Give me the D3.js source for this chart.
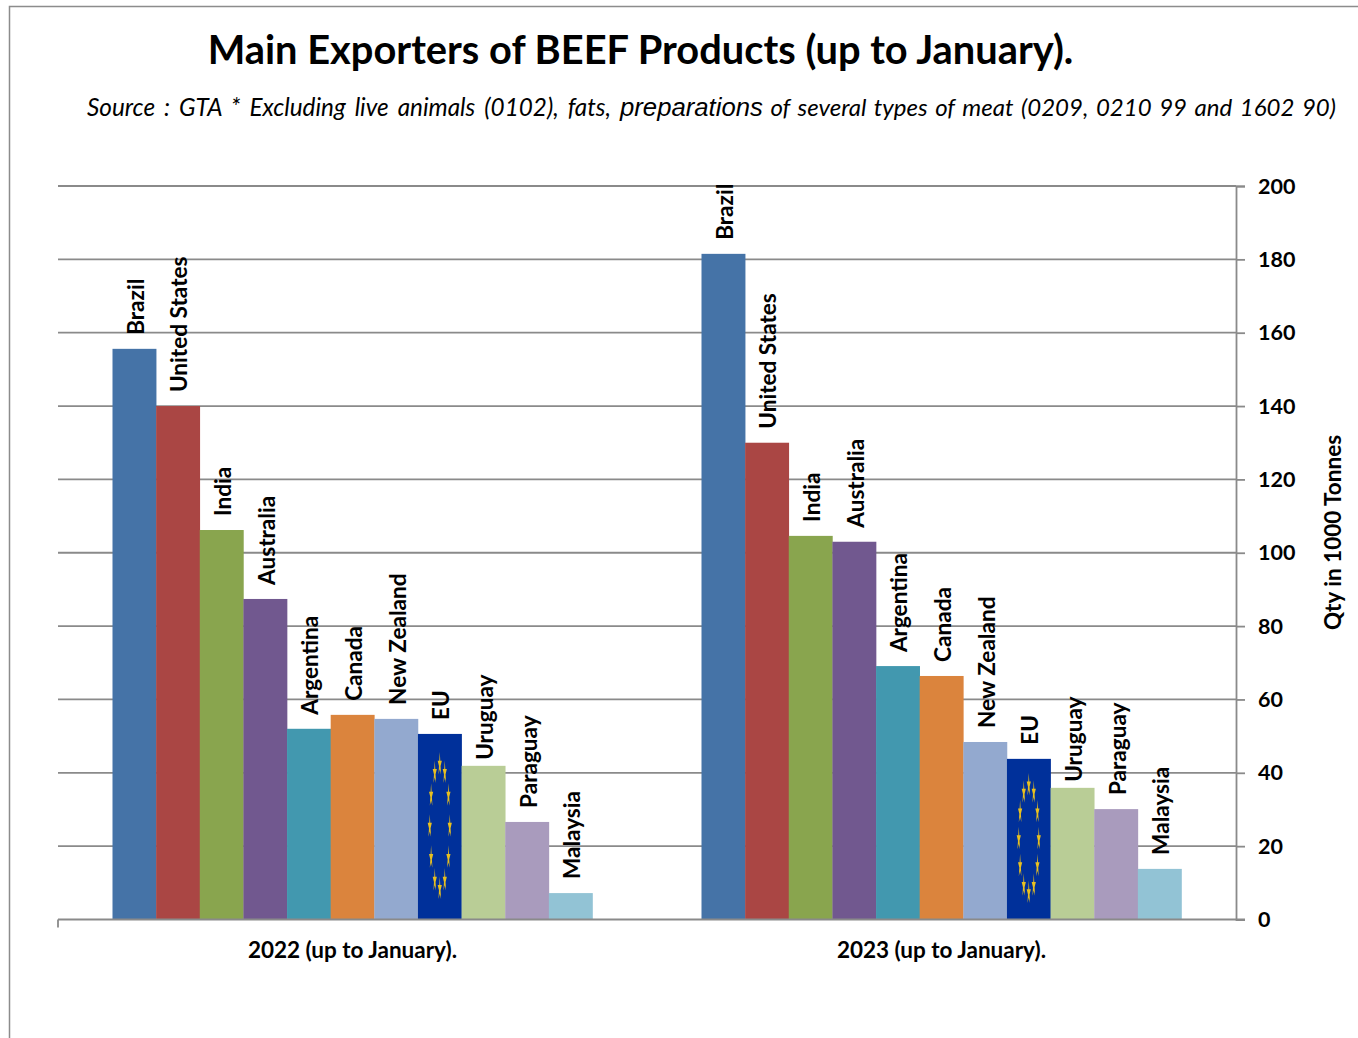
<!DOCTYPE html>
<html lang="en">
<head>
<meta charset="utf-8" />
<title>Main Exporters of BEEF Products</title>
<script src="https://d3js.org/d3.v7.min.js"></script>
<style>
  html, body { margin: 0; padding: 0; background: #fff; }
  svg { display: block; }
  text { font-family: Lato, "Open Sans", sans-serif; fill: #000; }
</style>
</head>
<body>
<svg width="1358" height="1038"></svg>
<script>
// data
var countries = ["Brazil", "United States", "India", "Australia", "Argentina", "Canada", "New Zealand", "EU", "Uruguay", "Paraguay", "Malaysia"];
var periods = ["2022 (up to January).", "2023 (up to January)."];
var values2022 = [155.6, 140, 106.2, 87.4, 52, 55.8, 54.7, 50.6, 41.9, 26.6, 7.2];
var values2023 = [181.5, 130, 104.6, 103, 69.1, 66.4, 48.4, 43.8, 35.9, 30.1, 13.8];
var colors = ["#4573a7", "#aa4644", "#89a54e", "#71588f", "#4298af", "#db843d", "#93a9cf", "#00309a", "#b9cd96", "#a99bbd", "#92c3d5"];
var yTicks = [0, 20, 40, 60, 80, 100, 120, 140, 160, 180, 200];
var allValues = [values2022, values2023];

var svg = d3.select("svg");

var left = 58, right = 1236, top_ = 186, bottom = 919.5;
var gridColor = "#8a8a8a";

// outer frame, only top and left show
svg.append("path")
  .attr("d", "M9.5,1038V6.5H1358")
  .attr("fill", "none")
  .attr("stroke", "#8c8c8c")
  .attr("stroke-width", 1.5);

var y = d3.scaleLinear().domain([0, 200]).range([bottom, top_]);
var x0 = d3.scaleBand().domain(periods).range([left, right]);
var x1 = d3.scaleBand().domain(countries).range([0, 480]);
var groupPad = (x0.bandwidth() - 480) / 2;

// gridlines
svg.append("g")
  .selectAll("line")
  .data(yTicks.slice(1))
  .enter()
  .append("line")
  .attr("x1", left)
  .attr("x2", right)
  .attr("y1", function (d) { return y(d); })
  .attr("y2", function (d) { return y(d); })
  .attr("stroke", gridColor)
  .attr("stroke-width", 1.8);

// bars
var groups = svg.append("g")
  .selectAll("g")
  .data(periods)
  .enter()
  .append("g")
  .attr("transform", function (d) { return "translate(" + (x0(d) + groupPad) + ",0)"; });

groups.each(function (p, i) {
  var g = d3.select(this);
  var vals = allValues[i];

  g.selectAll("rect")
    .data(countries)
    .enter()
    .append("rect")
    .attr("x", function (c) { return x1(c); })
    .attr("width", x1.bandwidth() + 0.3)
    .attr("y", function (c, j) { return y(vals[j]); })
    .attr("height", function (c, j) { return bottom - y(vals[j]); })
    .attr("fill", function (c, j) { return colors[j]; });

  // EU bar is a stretched flag, so the ring of stars stretches with it
  var eu = countries.indexOf("EU");
  var cx = x1("EU") + x1.bandwidth() / 2;
  var cy = (y(vals[eu]) + bottom) / 2;
  var ry = (bottom - y(vals[eu])) * 0.335;
  g.append("g")
    .selectAll("path")
    .data(d3.range(12))
    .enter()
    .append("path")
    .attr("d", d3.symbol().type(d3.symbolStar).size(60))
    .attr("fill", "#e8c020")
    .attr("transform", function (k) {
      var a = k * Math.PI / 6;
      return "translate(" + (cx + 10 * Math.sin(a)) + "," + (cy - ry * Math.cos(a)) + ") scale(0.3,1.7)";
    });

  // country labels, Uruguay sits closer to its bar in the original
  g.selectAll("text.country")
    .data(countries)
    .enter()
    .append("text")
    .attr("class", "country")
    .attr("transform", function (c, j) {
      var gap = c === "Uruguay" ? 6 : 14;
      return "translate(" + (x1(c) + x1.bandwidth() / 2 + 9.5) + "," + (y(vals[j]) - gap) + ") rotate(-90)";
    })
    .attr("font-size", 22.6)
    .attr("font-weight", 700)
    .text(function (c) { return c; });
});

// right axis
var yAxis = svg.append("g")
  .attr("transform", "translate(" + right + ",0)")
  .call(d3.axisRight(y).tickValues(yTicks).tickSize(9).tickPadding(13));
yAxis.select(".domain").attr("stroke", gridColor).attr("stroke-width", 1.8);
yAxis.selectAll("line").attr("stroke", gridColor).attr("stroke-width", 1.8);
yAxis.selectAll("text")
  .attr("font-size", 21.5)
  .attr("font-weight", 700)
  .attr("font-family", "Lato")
  .attr("fill", "#000")
  .attr("dy", "0.33em");

// bottom axis line, one tick at the left end only
svg.append("line")
  .attr("x1", left).attr("x2", right + 9)
  .attr("y1", bottom).attr("y2", bottom)
  .attr("stroke", gridColor).attr("stroke-width", 1.8);
svg.append("line")
  .attr("x1", left).attr("x2", left)
  .attr("y1", bottom).attr("y2", bottom + 8)
  .attr("stroke", gridColor).attr("stroke-width", 1.8);

// group labels
svg.append("g").selectAll("text")
  .data(periods)
  .enter()
  .append("text")
  .attr("x", function (d) { return x0(d) + x0.bandwidth() / 2; })
  .attr("y", 958)
  .attr("text-anchor", "middle")
  .attr("font-size", 22.5)
  .attr("font-weight", 700)
  .text(function (d) { return d; });

// axis title
svg.append("text")
  .attr("transform", "translate(1341,532.5) rotate(-90)")
  .attr("text-anchor", "middle")
  .attr("font-size", 22.5)
  .attr("font-weight", 700)
  .text("Qty in 1000 Tonnes");

// title and source line
svg.append("text")
  .attr("x", 640.5)
  .attr("y", 63.5)
  .attr("text-anchor", "middle")
  .attr("font-size", 39.8)
  .attr("font-weight", 700)
  .text("Main Exporters of BEEF Products (up to January).");

var source = svg.append("text")
  .attr("x", 87)
  .attr("y", 116)
  .attr("font-size", 24);
source.append("tspan").attr("font-style", "italic").attr("font-size", 24.3).attr("word-spacing", 3.3).text("Source : GTA * Excluding live animals (0102), fats, ");
source.append("tspan").attr("font-style", "italic").attr("font-family", "Liberation Sans").attr("font-size", 25.7).text("preparations");
source.append("tspan").attr("font-style", "italic").attr("word-spacing", 1.95).text(" of several types of meat (0209, 0210 99 and 1602 90)");
</script>
</body>
</html>
